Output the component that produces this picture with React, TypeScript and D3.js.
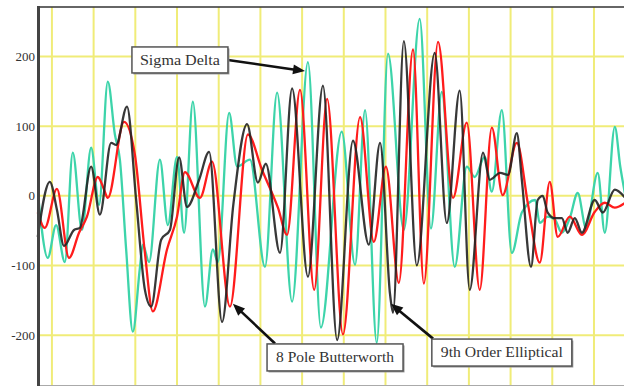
import React from 'react';
import * as d3 from 'd3';

// ---- data (x in samples, y in output value) ----
const sigmaDelta: [number, number][] = [
  [-3.3, 0], [-1.0, -89], [1.0, -42], [3.1, -95], [5.0, 62], [7.2, -49], [9.4, 69], [11.3, -13],
  [13.4, 164], [15.1, 88], [16.3, 52], [17.8, -77], [19.4, -195], [21.1, -103], [21.8, -70],
  [23.3, -95], [25.9, 52], [27.8, -42], [30.0, 56], [31.7, -53], [33.8, 135], [36.7, -159],
  [38.6, -77], [39.8, -95], [42.5, 119], [44.4, 42], [47.5, 52], [51.1, -102], [54.0, 148],
  [57.6, -152], [61.4, 192], [64.5, -189], [69.5, 92], [72.7, -99], [75.1, 123], [77.9, -211],
  [80.6, 204], [84.4, -49], [88.2, 254], [90.9, -47], [93.5, 149], [96.6, -102], [99.5, 42],
  [101.4, 27], [103.8, 56], [105.5, 6], [107.9, 123], [110.3, -82], [112.7, -24], [115.9, -6],
  [117.0, -39], [118.9, -30], [120.6, -34], [122.3, -53], [124.2, -32], [126.1, 4], [128.1, -46],
  [130.9, 33], [132.6, -53], [135.0, 99], [136.3, 42], [137.5, 1],
];

const elliptical9: [number, number][] = [
  [-3.4, -59], [-0.5, 20], [1.2, -20], [2.9, -72], [5.3, -49], [6.7, -46], [9.4, 42], [11.5, -27],
  [14.2, 76], [15.4, 73], [18.0, 128], [20.2, -6], [22.3, -135], [23.8, -159], [26.2, -63],
  [28.3, -49], [30.5, 55], [32.4, -16], [35.3, 23], [37.7, 63], [40.8, -181], [43.5, -13],
  [46.8, 103], [49.4, 19], [51.3, 46], [54.7, -82], [57.6, 154], [61.4, -116], [65.0, 158],
  [68.4, -207], [72.2, 79], [76.0, -70], [78.7, 76], [81.1, -142], [81.8, -168], [84.4, 222],
  [87.5, -100], [91.8, 205], [94.7, -39], [97.8, 151], [100.2, -135], [103.4, 62], [105.0, 23],
  [107.5, 33], [109.4, 30], [111.5, 90], [112.7, 23], [114.9, -102], [116.5, -6], [117.7, 0],
  [118.9, -24], [120.6, -32], [122.3, -32], [123.7, -53], [125.4, -32], [127.1, -53], [130.2, -6],
  [132.1, -24], [135.0, 9], [137.5, -3],
];

const butterworth8: [number, number][] = [
  [-3.4, -24], [-1.7, -46], [1.2, 10], [4.1, -89], [6.5, -53], [8.4, -30], [11.0, 27], [12.5, 9],
  [13.4, -3], [17.3, 106], [19.9, 59], [22.3, -82], [24.2, -166], [27.6, -77], [30.0, -30],
  [31.9, 34], [35.5, -3], [38.4, 49], [42.7, -159], [47.0, 88], [50.4, 37], [54.2, -17],
  [56.4, -56], [59.5, 152], [62.9, -135], [66.0, 139], [69.8, -199], [73.9, 113], [77.2, -66],
  [80.1, 42], [83.2, -125], [86.6, 210], [89.2, -126], [92.6, 221], [96.2, -3], [99.5, 105],
  [102.6, -135], [105.5, 98], [108.1, 1], [111.5, 76], [114.2, -13], [117.0, -96], [119.4, 20],
  [121.3, -59], [124.2, -30], [127.1, -56], [130.2, -23], [132.6, -10], [135.0, -17], [137.5, -10],
];

const yTicks = [-200, -100, 0, 100, 200];
const xGridTicks = d3.range(0, 131, 10);

// annotations: label, box centre (data), arrow tail (data), arrow tip (data)
const annotationLabels = ['Sigma Delta', '8 Pole Butterworth', '9th Order Elliptical'];
const annotationBoxes: [number, number][] = [[30.7, 195], [67.9, -232], [107.9, -225]];
const annotationTails: [number, number][] = [[42.2, 195], [53.5, -212], [91.4, -205]];
const annotationTips: [number, number][] = [[60.7, 179], [43.4, -155], [81.3, -155]];

const W = 624;
const H = 386;
const boxSize = [[96, 26], [136, 27], [140, 27]];
const textLen = [80, 118, 122];
const serif = '"Liberation Serif", "Times New Roman", Times, serif';

function arrowHead(x1: number, y1: number, x2: number, y2: number, len = 12, half = 5) {
  const dx = x2 - x1, dy = y2 - y1;
  const d = Math.hypot(dx, dy);
  const ux = dx / d, uy = dy / d;
  const bx = x2 - ux * len, by = y2 - uy * len;
  const px = -uy, py = ux;
  return {
    shaftEnd: [bx + ux * 2, by + uy * 2],
    poly: `${x2},${y2} ${bx + px * half},${by + py * half} ${bx - px * half},${by - py * half}`,
  };
}

export default function App() {
  const x = d3.scaleLinear().domain([-3.1, 137.2]).range([39, 624]);
  const y = d3.scaleLinear().domain([-273, 271]).range([386, 7]);
  const line = d3
    .line<[number, number]>()
    .x((d) => x(d[0]))
    .y((d) => y(d[1]))
    .curve(d3.curveMonotoneX);

  const grid = '#f0ec78';

  return (
    <svg
      width={W}
      height={H}
      style={{ position: 'absolute', left: 0, top: 0, background: '#fff' }}
    >
      <rect x={0} y={0} width={W} height={H} fill="#fff" />
      {xGridTicks.map((t) => (
        <line key={'vx' + t} x1={x(t)} x2={x(t)} y1={7} y2={H} stroke={grid} strokeWidth={2} />
      ))}
      {yTicks.map((t) => (
        <line key={'hy' + t} x1={37} x2={W} y1={y(t)} y2={y(t)} stroke={grid} strokeWidth={2} />
      ))}
      <line x1={38} x2={W} y1={7} y2={7} stroke="#333" strokeWidth={1.6} />
      <line x1={38} x2={W} y1={385.5} y2={385.5} stroke="#aaa" strokeWidth={1} />

      <path d={line(sigmaDelta) || ''} fill="none" stroke="#3dd4aa" strokeWidth={2.3} strokeLinejoin="round" />
      <path d={line(butterworth8) || ''} fill="none" stroke="#ff1c1c" strokeWidth={2.3} strokeLinejoin="round" />
      <path d={line(elliptical9) || ''} fill="none" stroke="#222" strokeWidth={2.3} strokeLinejoin="round" opacity={0.9} />

      <line x1={38.5} x2={38.5} y1={6} y2={H} stroke="#444" strokeWidth={3} />

      {yTicks.map((t) => (
        <text
          key={'yl' + t}
          x={35}
          y={y(t)}
          dy="0.35em"
          textAnchor="end"
          style={{ fontFamily: serif, fontSize: '13px' }}
          fill="#333"
        >
          {t}
        </text>
      ))}

      {annotationLabels.map((label, i) => {
        const cx = x(annotationBoxes[i][0]);
        const cy = y(annotationBoxes[i][1]);
        const [bw, bh] = boxSize[i];
        const tx = x(annotationTails[i][0]);
        const ty = y(annotationTails[i][1]);
        const hx = x(annotationTips[i][0]);
        const hy = y(annotationTips[i][1]);
        const a = arrowHead(tx, ty, hx, hy);
        return (
          <g key={label}>
            <line x1={tx} y1={ty} x2={a.shaftEnd[0]} y2={a.shaftEnd[1]} stroke="#111" strokeWidth={2.6} />
            <polygon points={a.poly} fill="#111" />
            <rect x={cx - bw / 2 + 1.5} y={cy - bh / 2 + 1.5} width={bw} height={bh} fill="#999" />
            <rect x={cx - bw / 2} y={cy - bh / 2} width={bw} height={bh} fill="#fff" stroke="#555" strokeWidth={1.5} />
            <text
              x={cx}
              y={cy}
              dy="0.35em"
              textAnchor="middle"
              style={{ fontFamily: serif, fontSize: '14px' }}
              fill="#333"
              textLength={textLen[i]}
              lengthAdjust="spacingAndGlyphs"
            >
              {label}
            </text>
          </g>
        );
      })}
    </svg>
  );
}
